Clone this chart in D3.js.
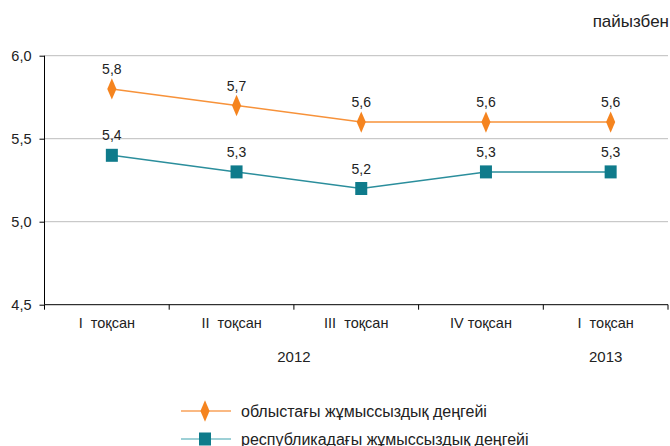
<!DOCTYPE html>
<html>
<head>
<meta charset="utf-8">
<script src="https://cdn.jsdelivr.net/npm/d3@7"></script>
<style>
  html, body { margin: 0; padding: 0; background: #fff; }
  svg text { font-family: "Liberation Sans", Arial, sans-serif; fill: #222; }
</style>
</head>
<body>
<svg id="chart" width="670" height="446"></svg>
<script>
// Quarterly unemployment rate, percent
const quarters = ["2012 I", "2012 II", "2012 III", "2012 IV", "2013 I"];
const quarterLabels = ["I  тоқсан", "II  тоқсан", "III  тоқсан", "IV тоқсан", "I  тоқсан"];
const regionRate = [5.8, 5.7, 5.6, 5.6, 5.6];
const republicRate = [5.4, 5.3, 5.2, 5.3, 5.3];
const yTicks = [4.5, 5.0, 5.5, 6.0];
const years = [{ label: "2012", from: 0, to: 3 }, { label: "2013", from: 4, to: 4 }];
const seriesNames = ["облыстағы жұмыссыздық деңгейі", "республикадағы жұмыссыздық деңгейі"];
const unitLabel = "пайызбен";

const orange = "#f5841f";
const teal = "#0f7b8b";
const orangeLine = "#f7923a";
const tealLine = "#2b8e9c";

const svg = d3.select("#chart");
const plotLeft = 44.5, plotRight = 668, plotTop = 55.7, plotBottom = 304.7;

const x = d3.scaleBand().domain(quarters).range([plotLeft, plotRight]);
const y = d3.scaleLinear().domain([4.5, 6.0]).range([plotBottom, plotTop]);
const px = d => x(d) + x.bandwidth() / 2 + 5;
const fmt = v => d3.format(".1f")(v).replace(".", ",");

// horizontal gridlines
svg.append("g").selectAll("line")
  .data(yTicks.filter(t => t > 4.5))
  .join("line")
  .attr("x1", plotLeft).attr("x2", plotRight)
  .attr("y1", d => y(d)).attr("y2", d => y(d))
  .attr("stroke", "#bdbdbd").attr("stroke-width", 1);

// y axis
const yAxis = svg.append("g")
  .attr("transform", `translate(${plotLeft},0)`)
  .call(d3.axisLeft(y).tickValues(yTicks).tickSize(5).tickFormat(fmt));
yAxis.select(".domain").attr("stroke", "#000").attr("d", `M0,${plotBottom}V${plotTop}`);
yAxis.selectAll(".tick line").attr("stroke", "#000");
yAxis.selectAll(".tick text").attr("font-size", 14.5).attr("x", -13)
  .style("font-family", "Liberation Sans, Arial, sans-serif").attr("fill", "#222");

// x axis with ticks on category boundaries
const xg = svg.append("g").attr("transform", `translate(0,${plotBottom})`);
xg.append("line").attr("x1", plotLeft).attr("x2", plotRight).attr("stroke", "#000");
xg.selectAll("line.tk")
  .data(quarters.map(q => x(q)).concat([plotRight]))
  .join("line").attr("class", "tk")
  .attr("x1", d => d).attr("x2", d => d).attr("y1", 0).attr("y2", 5)
  .attr("stroke", "#000");
xg.selectAll("text.cat")
  .data(quarters)
  .join("text").attr("class", "cat")
  .attr("x", d => x(d) + x.bandwidth() / 2)
  .attr("y", 23)
  .attr("text-anchor", "middle")
  .attr("font-size", 14.5)
  .style("white-space", "pre")
  .attr("xml:space", "preserve")
  .text((d, i) => quarterLabels[i]);
xg.selectAll("text.year")
  .data(years)
  .join("text").attr("class", "year")
  .attr("x", d => (x(quarters[d.from]) + x(quarters[d.to]) + x.bandwidth()) / 2)
  .attr("y", 57)
  .attr("text-anchor", "middle")
  .attr("font-size", 15)
  .text(d => d.label);

// unit label
svg.append("text").attr("x", 669).attr("y", 27)
  .attr("text-anchor", "end").attr("font-size", 17).text(unitLabel);

const line = d3.line().x((d, i) => px(quarters[i])).y(d => y(d));
const diamond = d3.symbol().type(d3.symbolDiamond).size(100);

function drawSeries(values, lineColor, color, shape) {
  const g = svg.append("g");
  g.append("path").datum(values)
    .attr("d", line).attr("fill", "none")
    .attr("stroke", lineColor).attr("stroke-width", 1.5);
  g.selectAll("g.pt").data(values).join("g").attr("class", "pt")
    .attr("transform", (d, i) => `translate(${px(quarters[i])},${y(d)})`)
    .each(function () { shape(d3.select(this), color); });
  g.selectAll("text").data(values).join("text")
    .attr("x", (d, i) => px(quarters[i]))
    .attr("y", d => y(d) - 15)
    .attr("text-anchor", "middle")
    .attr("font-size", 14)
    .text(fmt);
}

const drawDiamond = (sel, color) => sel.append("path")
  .attr("d", diamond).attr("transform", "scale(0.85,1.15)").attr("fill", color);
const drawSquare = (sel, color) => sel.append("rect")
  .attr("x", -6).attr("y", -6.5).attr("width", 12).attr("height", 13).attr("fill", color);

drawSeries(regionRate, orangeLine, orange, drawDiamond);
drawSeries(republicRate, tealLine, teal, drawSquare);

// legend
const legend = svg.append("g");
const legendRows = [
  { name: seriesNames[0], lc: "#f8a25a", c: orange, shape: drawDiamond, y: 411 },
  { name: seriesNames[1], lc: "#7cc0c8", c: teal, shape: drawSquare, y: 439 }
];
legendRows.forEach(r => {
  legend.append("line").attr("x1", 181).attr("x2", 231).attr("y1", r.y).attr("y2", r.y)
    .attr("stroke", r.lc).attr("stroke-width", 1.5);
  r.shape(legend.append("g").attr("transform", `translate(205,${r.y})`), r.c);
  legend.append("text").attr("x", 241).attr("y", r.y + 5.5).attr("font-size", 16).text(r.name);
});
</script>
</body>
</html>
